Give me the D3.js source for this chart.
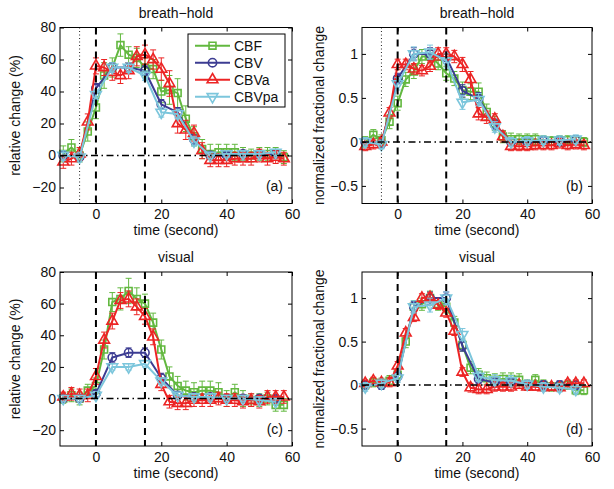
<!DOCTYPE html>
<html><head><meta charset="utf-8">
<script src="https://cdn.jsdelivr.net/npm/d3@7"></script>
<style>
body{margin:0;background:#fff}
svg{display:block}
text{font-family:"Liberation Sans",Arial,sans-serif;fill:#111}
</style>
</head><body><svg id="chart" width="614" height="489"></svg>
<script>
// ---------- data ----------
const tFine = [-10,-7.5,-5,-2.5,0,2.5,5,7.5,10,12.5,15,17.5,20,22.5,25,27.5,30,32.5,35,37.5,40,42.5,45,47.5,50,52.5,55,57.5];
const tCoarse = [-10,-5,0,5,10,15,20,25,30,35,40,45,50,55];
const seriesNames = ["CBF","CBV","CBVa","CBVpa"];
const xTicks = [0,20,40,60];
const yTicksRel = [-20,0,20,40,60,80];
const yTicksNorm = [-0.5,0,0.5,1];
const yTickLabelsNorm = ["\u22120.5","0","0.5","1"];

// (a) breath-hold, relative change
const a_CBF    = [1,5,0,15,30,50,55,69,63,61,55,54,40,41,39,23,12,4,1,2,2,2,1,0,1,1,1,-1];
const a_CBFe   = [5,5,4,6,7,8,6,7,5,6,6,6,7,9,9,8,6,6,6,5,5,5,4,4,4,4,4,4];
const a_CBV    = [0,-1,42,55,55,53,32,27,10,0,0,1,1,1];
const a_CBVe   = [2,2,3,3,3,3,3,3,3,2,2,2,2,2];
const a_CBVa   = [-4,-2,1,21,56,55,52,50,53,62,63,60,54,45,20,16,14,3,-3,-3,-3,-2,-2,-2,0,-2,-1,-2];
const a_CBVae  = [4,4,4,5,5,5,5,5,5,6,6,6,7,8,6,6,5,5,4,4,4,4,4,4,4,4,4,4];
const a_CBVpa  = [0,-1,38,55,55,50,27,26,9,0,1,1,1,2];
const a_CBVpae = [3,3,3,3,3,3,3,3,3,2,2,2,2,2];

// (b) breath-hold, normalized
const b_CBF    = [0,0.08,0.02,0.23,0.44,0.71,0.8,0.97,0.97,0.89,0.78,0.72,0.59,0.57,0.57,0.34,0.21,0.06,0.03,0.03,0.03,0.03,0.02,0.01,0.02,0.02,0.02,0.0];
const b_CBFe   = [0.06,0.06,0.06,0.08,0.08,0.08,0.08,0.08,0.07,0.07,0.08,0.08,0.09,0.09,0.1,0.09,0.08,0.07,0.07,0.06,0.06,0.06,0.05,0.05,0.05,0.05,0.05,0.05];
const b_CBV    = [0,-0.02,0.72,1.0,1.0,0.96,0.58,0.49,0.2,0,0,0.01,0.01,0.02];
const b_CBVe   = [0.05,0.05,0.06,0.07,0.07,0.07,0.07,0.07,0.06,0.05,0.05,0.05,0.05,0.05];
const b_CBVa   = [-0.05,-0.03,0.0,0.33,0.88,0.88,0.83,0.81,0.86,1.0,1.0,0.97,0.88,0.71,0.32,0.28,0.26,0.06,-0.05,-0.05,-0.05,-0.04,-0.04,-0.04,-0.02,-0.04,-0.03,-0.04];
const b_CBVae  = [0.05,0.05,0.05,0.06,0.06,0.06,0.06,0.06,0.06,0.07,0.07,0.07,0.08,0.09,0.07,0.07,0.06,0.06,0.05,0.05,0.05,0.05,0.05,0.05,0.05,0.05,0.05,0.05];
const b_CBVpa  = [0.0,-0.03,0.66,1.0,1.02,0.92,0.45,0.48,0.17,0.0,0.01,0.02,0.02,0.03];
const b_CBVpae = [0.05,0.05,0.07,0.08,0.08,0.08,0.08,0.07,0.06,0.05,0.05,0.05,0.05,0.05];

// (c) visual, relative change
const c_CBF    = [0,2,0,5,8,31,61,63,68,63,60,48,31,14,8,5,4,5,5,4,0,4,0,-1,-1,0,-4,-4];
const c_CBFe   = [3,4,4,4,5,6,6,7,8,7,6,6,6,6,6,6,6,6,6,6,5,5,5,4,4,4,4,4];
const c_CBV    = [0,0,3,26,29,29,13,2,1,1,0,0,0,0];
const c_CBVe   = [2,2,2,3,3,3,3,2,2,2,2,2,2,2];
const c_CBVa   = [1,3,2,2,14,37,49,62,63,58,52,39,9,-2,-3,-3,-1,-1,-1,0,-1,-1,-2,-1,-2,1,1,1];
const c_CBVae  = [3,4,4,4,5,5,5,5,5,5,5,5,4,4,4,4,4,4,4,4,4,4,4,4,4,4,4,4];
const c_CBVpa  = [0,0,2,20,20,22,11,2,1,1,0,0,-1,-2];
const c_CBVpae = [2,2,2,2,2,2,2,2,2,2,2,2,2,2];

// (d) visual, normalized
const d_CBF    = [0,0.03,0.02,0.05,0.12,0.5,0.9,0.93,1.0,0.93,0.9,0.72,0.46,0.2,0.12,0.08,0.06,0.07,0.07,0.06,0.0,0.06,0.0,-0.02,-0.02,0.0,-0.06,-0.06];
const d_CBFe   = [0.05,0.05,0.06,0.06,0.06,0.07,0.07,0.07,0.08,0.07,0.07,0.07,0.07,0.07,0.07,0.07,0.07,0.07,0.07,0.07,0.06,0.06,0.06,0.05,0.05,0.05,0.05,0.05];
const d_CBV    = [0,0,0.1,0.9,1.0,1.0,0.45,0.07,0.03,0.03,0,0,0,0];
const d_CBVe   = [0.05,0.05,0.05,0.06,0.07,0.07,0.06,0.05,0.05,0.05,0.05,0.05,0.05,0.05];
const d_CBVa   = [0.02,0.05,0.03,0.03,0.22,0.6,0.78,1.0,1.01,0.92,0.83,0.62,0.15,-0.03,-0.05,-0.05,-0.02,-0.02,-0.02,0,-0.02,-0.02,-0.03,-0.02,-0.03,0.02,0.02,0.02];
const d_CBVae  = [0.04,0.04,0.04,0.05,0.05,0.05,0.05,0.05,0.05,0.05,0.05,0.05,0.05,0.05,0.05,0.05,0.05,0.05,0.05,0.04,0.04,0.04,0.04,0.04,0.04,0.04,0.04,0.04];
const d_CBVpa  = [-0.02,0.02,0.08,0.9,0.92,1.0,0.58,0.1,0.06,0.05,0.01,-0.02,-0.03,-0.05];
const d_CBVpae = [0.05,0.05,0.05,0.07,0.08,0.07,0.07,0.06,0.06,0.06,0.05,0.05,0.05,0.05];

// ---------- styling ----------
const colors = {CBF:"#62b83f", CBV:"#3c3c92", CBVa:"#ec2424", CBVpa:"#7cc6dc"};
const symbols = {CBF:d3.symbolSquare, CBV:d3.symbolCircle, CBVa:d3.symbolTriangle, CBVpa:d3.symbolTriangle};
const symSize = {CBF:48, CBV:54, CBVa:50, CBVpa:50};
const symRot = {CBF:0, CBV:0, CBVa:0, CBVpa:180};

const panels = [
  {letter:"(a)", title:"breath\u2212hold", ylabel:"relative change (%)", yDomain:[-30,80], yTicks:yTicksRel, yLabels:null,
   left:60, right:292, top:27.5, bottom:203.5, ylabX:15, dotted:true, legend:true,
   series:{CBF:[tFine,a_CBF,a_CBFe], CBV:[tCoarse,a_CBV,a_CBVe], CBVa:[tFine,a_CBVa,a_CBVae], CBVpa:[tCoarse,a_CBVpa,a_CBVpae]}},
  {letter:"(b)", title:"breath\u2212hold", ylabel:"normalized fractional change", yDomain:[-0.7,1.3], yTicks:yTicksNorm, yLabels:yTickLabelsNorm,
   left:362, right:592, top:27.5, bottom:203.5, ylabX:319, dotted:true, legend:false,
   series:{CBF:[tFine,b_CBF,b_CBFe], CBV:[tCoarse,b_CBV,b_CBVe], CBVa:[tFine,b_CBVa,b_CBVae], CBVpa:[tCoarse,b_CBVpa,b_CBVpae]}},
  {letter:"(c)", title:"visual", ylabel:"relative change (%)", yDomain:[-30,80], yTicks:yTicksRel, yLabels:null,
   left:60, right:292, top:272, bottom:446, ylabX:15, dotted:false, legend:false,
   series:{CBF:[tFine,c_CBF,c_CBFe], CBV:[tCoarse,c_CBV,c_CBVe], CBVa:[tFine,c_CBVa,c_CBVae], CBVpa:[tCoarse,c_CBVpa,c_CBVpae]}},
  {letter:"(d)", title:"visual", ylabel:"normalized fractional change", yDomain:[-0.7,1.3], yTicks:yTicksNorm, yLabels:yTickLabelsNorm,
   left:362, right:592, top:272, bottom:446, ylabX:319, dotted:false, legend:false,
   series:{CBF:[tFine,d_CBF,d_CBFe], CBV:[tCoarse,d_CBV,d_CBVe], CBVa:[tFine,d_CBVa,d_CBVae], CBVpa:[tCoarse,d_CBVpa,d_CBVpae]}}
];

const svg = d3.select("#chart");
const fmtMinus = d => (d < 0 ? "\u2212" + Math.abs(d) : String(d));

panels.forEach(p => {
  const x = d3.scaleLinear().domain([-11,60]).range([p.left,p.right]);
  const y = d3.scaleLinear().domain(p.yDomain).range([p.bottom,p.top]);
  const g = svg.append("g");

  g.append("rect").attr("x",p.left).attr("y",p.top).attr("width",p.right-p.left).attr("height",p.bottom-p.top).attr("fill","#fff");

  // data
  seriesNames.forEach(name => {
    const [ts, vs, es] = p.series[name];
    const col = colors[name];
    const pts = ts.map((t,i)=>({t, v:vs[i], e:es[i]}));
    const eg = g.append("g").attr("stroke",col).attr("stroke-width",1).attr("fill","none");
    pts.forEach(d => {
      const cx = x(d.t), y1 = y(d.v - d.e), y2 = y(d.v + d.e);
      eg.append("line").attr("x1",cx).attr("x2",cx).attr("y1",y1).attr("y2",y2);
      eg.append("line").attr("x1",cx-3).attr("x2",cx+3).attr("y1",y1).attr("y2",y1);
      eg.append("line").attr("x1",cx-3).attr("x2",cx+3).attr("y1",y2).attr("y2",y2);
    });
    g.append("path").datum(pts)
      .attr("d", d3.line().x(d=>x(d.t)).y(d=>y(d.v)))
      .attr("fill","none").attr("stroke",col).attr("stroke-width",2).attr("stroke-linejoin","round");
    const sym = d3.symbol().type(symbols[name]).size(symSize[name]);
    g.append("g").selectAll("path").data(pts).join("path")
      .attr("d", sym)
      .attr("transform", d=>`translate(${x(d.t)},${y(d.v)}) rotate(${symRot[name]})`)
      .attr("fill","none").attr("stroke",col).attr("stroke-width",1.6);
  });

  // reference lines
  if (p.dotted) {
    g.append("line").attr("x1",x(-5)).attr("x2",x(-5)).attr("y1",p.top).attr("y2",p.bottom)
      .attr("stroke","#222").attr("stroke-width",1).attr("stroke-dasharray","1,2.5");
  }
  [0,15].forEach(v => {
    g.append("line").attr("x1",x(v)).attr("x2",x(v)).attr("y1",p.top).attr("y2",p.bottom)
      .attr("stroke","#000").attr("stroke-width",2).attr("stroke-dasharray","7,5");
  });
  g.append("line").attr("x1",p.left).attr("x2",p.right).attr("y1",y(0)).attr("y2",y(0))
    .attr("stroke","#000").attr("stroke-width",1.5).attr("stroke-dasharray","7,3.5,1.5,3.5");

  // axes
  const axB = g.append("g").attr("transform",`translate(0,${p.bottom})`)
    .call(d3.axisBottom(x).tickValues(xTicks).tickSize(-4).tickSizeOuter(0).tickPadding(6).tickFormat(fmtMinus));
  const axT = g.append("g").attr("transform",`translate(0,${p.top})`)
    .call(d3.axisTop(x).tickValues(xTicks).tickSize(-4).tickSizeOuter(0).tickFormat(""));
  const axL = g.append("g").attr("transform",`translate(${p.left},0)`)
    .call(d3.axisLeft(y).tickValues(p.yTicks).tickSize(-4).tickSizeOuter(0).tickPadding(4)
      .tickFormat((d,i)=> p.yLabels ? p.yLabels[i] : fmtMinus(d)));
  const axR = g.append("g").attr("transform",`translate(${p.right},0)`)
    .call(d3.axisRight(y).tickValues(p.yTicks).tickSize(-4).tickSizeOuter(0).tickFormat(""));
  [axB,axT,axL,axR].forEach(a => {
    a.selectAll(".domain").remove();
    a.selectAll(".tick line").attr("stroke","#000").attr("stroke-width",1);
    a.selectAll("text").attr("font-family","'Liberation Sans',Arial,sans-serif").attr("font-size",14).attr("fill","#111");
  });
  g.append("rect").attr("x",p.left).attr("y",p.top).attr("width",p.right-p.left).attr("height",p.bottom-p.top)
    .attr("fill","none").attr("stroke","#000").attr("stroke-width",1);

  // labels
  const cx = (p.left+p.right)/2;
  g.append("text").attr("x",cx).attr("y",p.top-14.5).attr("dy","0.35em").attr("text-anchor","middle")
    .attr("font-size",14).text(p.title);
  g.append("text").attr("x",cx).attr("y",p.bottom+27).attr("dy","0.35em").attr("text-anchor","middle")
    .attr("font-size",14).text("time (second)");
  const ym = (p.top+p.bottom)/2;
  g.append("text").attr("transform",`translate(${p.ylabX},${ym}) rotate(-90)`).attr("dy","0.35em")
    .attr("text-anchor","middle").attr("font-size",14).text(p.ylabel);
  g.append("text").attr("x",p.right-9).attr("y",p.bottom-17).attr("dy","0.35em").attr("text-anchor","end")
    .attr("font-size",14).text(p.letter);

  // legend
  if (p.legend) {
    const lg = g.append("g");
    lg.append("rect").attr("x",188).attr("y",34).attr("width",97).attr("height",73)
      .attr("fill","#fff").attr("stroke","#000").attr("stroke-width",1);
    seriesNames.forEach((name,i) => {
      const ly = 45.7 + 17*i;
      const col = colors[name];
      lg.append("line").attr("x1",195).attr("x2",230).attr("y1",ly).attr("y2",ly)
        .attr("stroke",col).attr("stroke-width",2);
      lg.append("path").attr("d", d3.symbol().type(symbols[name]).size(symSize[name])())
        .attr("transform",`translate(212.5,${ly}) rotate(${symRot[name]})`)
        .attr("fill","none").attr("stroke",col).attr("stroke-width",1.6);
      lg.append("text").attr("x",234).attr("y",ly).attr("dy","0.35em").attr("font-size",14).text(name);
    });
  }
});
</script></body></html>
